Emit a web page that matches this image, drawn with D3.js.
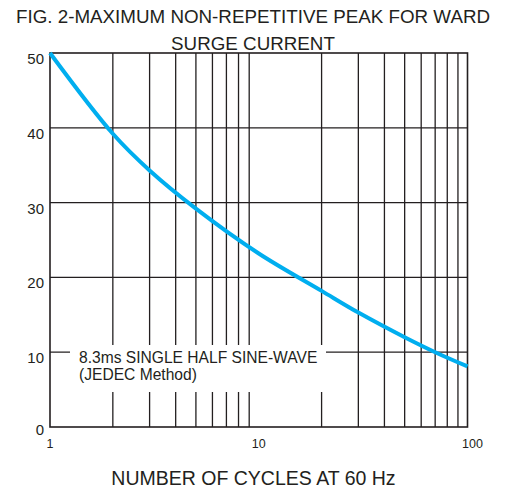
<!DOCTYPE html>
<html>
<head>
<meta charset="utf-8">
<script src="https://cdn.jsdelivr.net/npm/d3@7"></script>
<style>
  body { margin: 0; background: #fff; }
  svg { display: block; font-family: "Liberation Sans", Arial, sans-serif; }
</style>
</head>
<body>
<script>
// values
const cycles  = [1, 2, 3, 5, 10, 20, 30, 50, 70, 100];
const current = [50, 39.2, 34.3, 29.2, 23.2, 18.2, 15.3, 12.0, 10.0, 8.1];
const gridCycles = [2, 3, 4, 5, 6, 7, 8, 9, 20, 30, 40, 50, 60, 70, 80, 90];
const gridAmps = [10, 20, 30, 40];
const yTicks = [0, 10, 20, 30, 40, 50];
const xTicks = [1, 10, 100];
const titleLines = ["FIG. 2-MAXIMUM NON-REPETITIVE PEAK FOR WARD", "SURGE CURRENT"];
const xTitle = "NUMBER OF CYCLES AT 60 Hz";
const noteLines = ["8.3ms SINGLE HALF SINE-WAVE", "(JEDEC Method)"];

const width = 509, height = 491;
const ink = '#231f20';

const svg = d3.select('body').append('svg')
    .attr('width', width)
    .attr('height', height);

const x = d3.scaleLog().domain([1, 100]).range([50, 467.5]);
const y = d3.scaleLinear().domain([0, 50]).range([427, 53]);

// title
svg.selectAll('text.title')
    .data(titleLines)
    .enter()
    .append('text')
    .attr('class', 'title')
    .attr('x', 253)
    .attr('y', (d, i) => 23 + i * 26.5)
    .attr('text-anchor', 'middle')
    .attr('font-size', 18.8)
    .attr('fill', ink)
    .text(d => d);

// grid
svg.selectAll('line.vgrid')
    .data(gridCycles)
    .enter()
    .append('line')
    .attr('class', 'vgrid')
    .attr('x1', d => x(d)).attr('x2', d => x(d))
    .attr('y1', y(50)).attr('y2', y(0))
    .attr('stroke', ink).attr('stroke-width', 1.3);

svg.selectAll('line.hgrid')
    .data(gridAmps)
    .enter()
    .append('line')
    .attr('class', 'hgrid')
    .attr('x1', x(1)).attr('x2', x(100))
    .attr('y1', d => y(d)).attr('y2', d => y(d))
    .attr('stroke', ink).attr('stroke-width', 1.3);

// white box behind the note
svg.append('rect')
    .attr('x', 70).attr('y', 345)
    .attr('width', 256).attr('height', 47)
    .attr('fill', '#fff');

svg.selectAll('text.note')
    .data(noteLines)
    .enter()
    .append('text')
    .attr('class', 'note')
    .attr('x', 79)
    .attr('y', (d, i) => 363 + i * 17)
    .attr('font-size', 15.6)
    .attr('fill', ink)
    .text(d => d);

// frame
svg.append('rect')
    .attr('x', x(1)).attr('y', y(50))
    .attr('width', x(100) - x(1)).attr('height', y(0) - y(50))
    .attr('fill', 'none')
    .attr('stroke', ink).attr('stroke-width', 1.6);

// axis labels
svg.selectAll('text.ytick')
    .data(yTicks)
    .enter()
    .append('text')
    .attr('class', 'ytick')
    .attr('x', 44)
    .attr('y', d => y(d) + (d === 0 ? 8 : 11))
    .attr('text-anchor', 'end')
    .attr('font-size', 15)
    .attr('fill', ink)
    .text(d => d);

svg.selectAll('text.xtick')
    .data(xTicks)
    .enter()
    .append('text')
    .attr('class', 'xtick')
    .attr('x', d => x(d) + (d === 100 ? 5 : 0))
    .attr('y', 448)
    .attr('text-anchor', 'middle')
    .attr('font-size', 12.5)
    .attr('fill', ink)
    .text(d => d);

svg.append('text')
    .attr('x', 253.5)
    .attr('y', 485)
    .attr('text-anchor', 'middle')
    .attr('font-size', 19.5)
    .attr('fill', ink)
    .text(xTitle);

// curve
const line = d3.line()
    .x(d => x(d[0]))
    .y(d => y(d[1]))
    .curve(d3.curveCatmullRom.alpha(0.5));

svg.append('path')
    .datum(cycles.map((c, i) => [c, current[i]]))
    .attr('d', line)
    .attr('fill', 'none')
    .attr('stroke', '#00aeef')
    .attr('stroke-width', 4);
</script>
</body>
</html>
